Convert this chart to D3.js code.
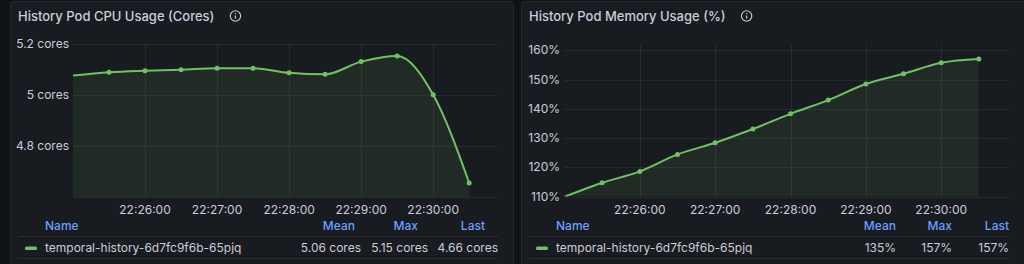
<!DOCTYPE html>
<html>
<head>
<meta charset="utf-8">
<script src="https://cdn.jsdelivr.net/npm/d3@7"></script>
<style>
  html, body { margin:0; padding:0; background:#111217; }
  svg { display:block; font-family: Inter, "Noto Sans", sans-serif; }
</style>
</head>
<body>
<svg id="chart" width="1024" height="264"></svg>
<script>
// ---- Data ----
const times = ["22:25:00","22:25:30","22:26:00","22:26:30","22:27:00","22:27:30","22:28:00","22:28:30","22:29:00","22:29:30","22:30:00","22:30:30"];
const cpuCores = [5.076, 5.089, 5.095, 5.099, 5.105, 5.105, 5.087, 5.081, 5.131, 5.153, 5.001, 4.655];
const memPct = [109.9, 114.7, 118.6, 124.4, 128.4, 133.1, 138.3, 143.0, 148.5, 152.0, 155.8, 157.1];
const xTickLabels = ["22:26:00","22:27:00","22:28:00","22:29:00","22:30:00"];
const cpuTicks = [4.8, 5, 5.2];
const memTicks = [110, 120, 130, 140, 150, 160];
const seriesName = "temporal-history-6d7fc9f6b-65pjq";
const titles = ["History Pod CPU Usage (Cores)", "History Pod Memory Usage (%)"];
const legendHeaders = ["Name", "Mean", "Max", "Last"];

const parseT = t => { const [h,m,s] = t.split(":").map(Number); return new Date(2024,0,1,h,m,s); };
const svg = d3.select("#chart");
const GREEN = "#73bf69", TXT = "#ccccdc", BLUE = "#6e9fff";

function panel(cfg) {
  const g = svg.append("g");
  g.append("rect").attr("x", cfg.px + 0.5).attr("y", 1.5).attr("width", cfg.pw).attr("height", 300)
    .attr("rx", 3).attr("fill", "#181b1f").attr("stroke", "#25272c");
  const title = g.append("text").attr("x", cfg.px + 8).attr("y", 21).attr("fill", TXT)
    .attr("font-size", 13).attr("font-weight", 500).text(cfg.title);
  const tw = title.node().getComputedTextLength();
  const ic = g.append("g").attr("transform", `translate(${cfg.px + 8 + tw + 21},16)`);
  ic.append("circle").attr("r", 5.2).attr("fill", "none").attr("stroke", TXT).attr("stroke-width", 1.1);
  ic.append("line").attr("x1", 0).attr("x2", 0).attr("y1", -0.5).attr("y2", 2.6).attr("stroke", TXT).attr("stroke-width", 1.2);
  ic.append("circle").attr("cy", -2.4).attr("r", 0.7).attr("fill", TXT);

  const x = d3.scaleTime().domain([parseT("22:25:00"), parseT("22:30:54")]).range(cfg.xr);
  const y = d3.scaleLinear().domain(cfg.yd).range([cfg.yBottom, 44]);
  const grid = "rgba(204,214,230,0.08)";
  g.selectAll(".hg").data(cfg.gridY).enter().append("line")
    .attr("x1", cfg.xr[0]).attr("x2", cfg.xr[1]).attr("y1", d => Math.round(y(d)) + 0.5).attr("y2", d => Math.round(y(d)) + 0.5)
    .attr("stroke", grid);
  g.selectAll(".vg").data(xTickLabels).enter().append("line")
    .attr("x1", d => Math.round(x(parseT(d))) + 0.5).attr("x2", d => Math.round(x(parseT(d))) + 0.5)
    .attr("y1", 44).attr("y2", cfg.yBottom).attr("stroke", grid);
  g.selectAll(".yl").data(cfg.ticks).enter().append("text")
    .attr("x", cfg.yLabelX).attr("y", d => y(d) + 4).attr("text-anchor", "end")
    .attr("fill", TXT).attr("font-size", 12).text(cfg.fmt);
  g.selectAll(".xl").data(xTickLabels).enter().append("text")
    .attr("x", d => x(parseT(d))).attr("y", 214).attr("text-anchor", "middle")
    .attr("fill", TXT).attr("font-size", 12).text(d => d);

  const pts = times.map((t, i) => ({ t: parseT(t), v: cfg.values[i] }));
  const clipId = "clip" + cfg.px;
  g.append("clipPath").attr("id", clipId).append("rect")
    .attr("x", cfg.xr[0]).attr("y", 40).attr("width", cfg.xr[1] - cfg.xr[0]).attr("height", cfg.yBottom - 40);
  const cg = g.append("g").attr("clip-path", `url(#${clipId})`);
  const area = d3.area().x(d => x(d.t)).y0(cfg.yBottom).y1(d => y(d.v)).curve(d3.curveMonotoneX);
  const line = d3.line().x(d => x(d.t)).y(d => y(d.v)).curve(d3.curveMonotoneX);
  cg.append("path").datum(pts).attr("d", area).attr("fill", GREEN).attr("fill-opacity", 0.1);
  cg.append("path").datum(pts).attr("d", line).attr("fill", "none").attr("stroke", GREEN).attr("stroke-width", 2);
  cg.selectAll(".pt").data(pts.slice(1)).enter().append("circle")
    .attr("cx", d => x(d.t)).attr("cy", d => y(d.v)).attr("r", 2.5).attr("fill", GREEN);

  const sepX = [cfg.px + 8, cfg.xr[1]];
  [236.5, 258.5].forEach(yy => g.append("line").attr("x1", sepX[0]).attr("x2", sepX[1])
    .attr("y1", yy).attr("y2", yy).attr("stroke", "#2a2c31"));
  g.append("text").attr("x", cfg.nameX).attr("y", 230).attr("fill", BLUE).attr("font-size", 12)
    .attr("font-weight", 500).text(legendHeaders[0]);
  legendHeaders.slice(1).forEach((h, i) => g.append("text").attr("x", cfg.hdrX[i]).attr("y", 230)
    .attr("text-anchor", "end").attr("fill", BLUE).attr("font-size", 12).attr("font-weight", 500).text(h));
  g.append("rect").attr("x", cfg.nameX - 20).attr("y", 246.5).attr("width", 12).attr("height", 3.5)
    .attr("rx", 1.5).attr("fill", GREEN);
  g.append("text").attr("x", cfg.nameX).attr("y", 252).attr("fill", TXT).attr("font-size", 12).text(seriesName);
  const stats = [d3.mean(cfg.values), d3.max(cfg.values), cfg.values[cfg.values.length - 1]];
  stats.forEach((s, i) => g.append("text").attr("x", cfg.valX[i]).attr("y", 252).attr("text-anchor", "end")
    .attr("fill", TXT).attr("font-size", 12).text(cfg.legFmt(s)));
}

panel({
  px: 10, pw: 503, title: titles[0], xr: [73, 498], yd: [4.6, 5.2], yBottom: 197,
  gridY: [4.6, 4.8, 5, 5.2], ticks: cpuTicks, yLabelX: 69, fmt: d => d3.format("~g")(d) + " cores",
  values: cpuCores, nameX: 45, hdrX: [355, 418, 485], valX: [361, 428, 498],
  legFmt: v => v.toFixed(2) + " cores"
});
panel({
  px: 521, pw: 520, title: titles[1], xr: [564.5, 1009], yd: [110, 162.2], yBottom: 196.5,
  gridY: memTicks, ticks: memTicks, yLabelX: 560, fmt: d => d + "%",
  values: memPct, nameX: 556, hdrX: [896, 952, 1009], valX: [896, 952, 1009],
  legFmt: v => Math.round(v) + "%"
});
</script>
</body>
</html>
